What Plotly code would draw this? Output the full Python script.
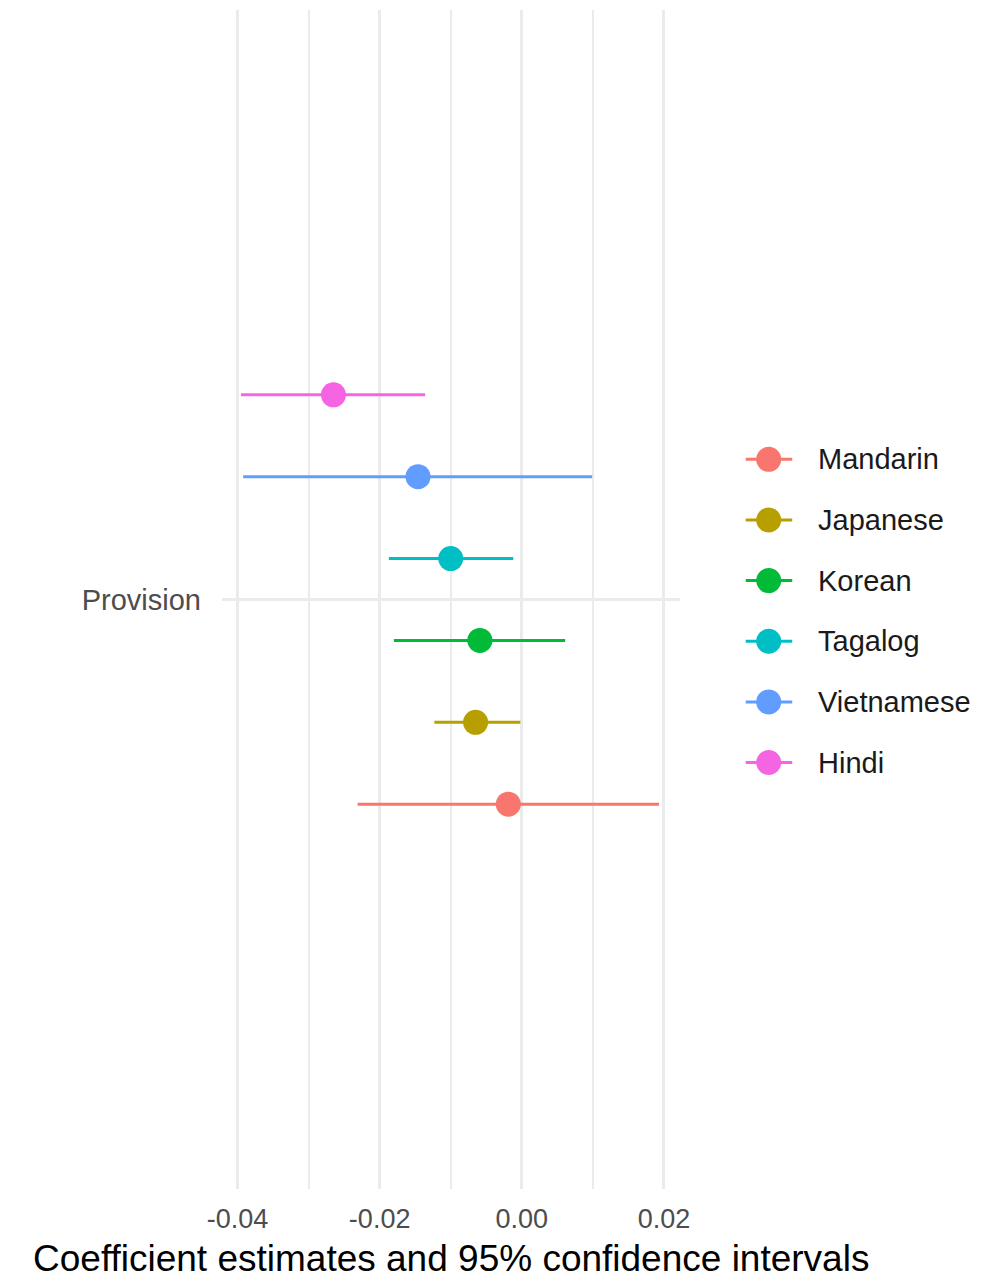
import plotly.graph_objects as go

# Model term and per-language coefficient estimates with 95% CIs
term = "Provision"
languages = ["Mandarin", "Japanese", "Korean", "Tagalog", "Vietnamese", "Hindi"]
estimates = [-0.0019, -0.0065, -0.0059, -0.0100, -0.0146, -0.0265]
ci_low = [-0.0231, -0.0123, -0.0180, -0.0187, -0.0392, -0.0395]
ci_high = [0.0193, -0.0002, 0.0061, -0.0012, 0.0099, -0.0136]
colors = ["#F8766D", "#B79F00", "#00BA38", "#00BFC4", "#619CFF", "#F564E3"]

x_tickvals = [-0.04, -0.02, 0.0, 0.02]
x_ticktext = ["-0.04", "-0.02", "0.00", "0.02"]
x_minor = [-0.03, -0.01, 0.01]
x_title = "Coefficient estimates and 95% confidence intervals"

FONT = "Liberation Sans, Arial, Helvetica, sans-serif"
GRID = "#EBEBEB"

W, H = 985, 1282
M_L, M_R, M_T, M_B = 222, 12, 10, 86

dodge_width = 0.5
n = len(languages)

# panel and key-area domains (fractions of the plotting width)
panel_domain = [0, 0.617]
key_domain = [0.7048, 1]

# legend key geometry (pixels inside the key axis)
key_span = 219
key_x, key_half, label_x = 23, 23.5, 70
row0_px, row_step = 462, 61
plot_top, plot_bottom = M_T, H - M_B

fig = go.Figure()
for i, (lang, est, lo, hi, col) in enumerate(zip(languages, estimates, ci_low, ci_high, colors)):
    ypos = 1 + (i - (n - 1) / 2) * dodge_width / n
    fig.add_trace(go.Scatter(
        x=[est], y=[ypos], mode="markers", name=lang, showlegend=False,
        marker=dict(size=25, color=col),
        error_x=dict(type="data", symmetric=False, array=[hi - est],
                     arrayminus=[est - lo], width=0, thickness=3, color=col),
        xaxis="x", yaxis="y",
    ))
    # legend key: point with a short horizontal bar
    fig.add_trace(go.Scatter(
        x=[key_x], y=[i], mode="markers", name=lang, showlegend=False,
        hoverinfo="skip",
        marker=dict(size=25, color=col),
        error_x=dict(type="constant", value=key_half, width=0, thickness=3, color=col),
        xaxis="x2", yaxis="y2",
    ))
    fig.add_annotation(
        x=label_x, y=i, xref="x2", yref="y2", text=lang, showarrow=False,
        xanchor="left", yanchor="middle",
        font=dict(family=FONT, size=29, color="#1A1A1A"),
    )

y2_lo = -(row0_px - plot_top) / row_step
y2_hi = (plot_bottom - row0_px) / row_step

fig.update_layout(
    width=W, height=H,
    margin=dict(l=M_L, r=M_R, t=M_T, b=M_B),
    paper_bgcolor="white", plot_bgcolor="white",
    showlegend=False,
    font=dict(family=FONT),
    xaxis=dict(
        domain=panel_domain,
        range=[-0.04218, 0.02232],
        tickmode="array", tickvals=x_tickvals, ticktext=x_ticktext,
        showgrid=True, gridcolor=GRID, gridwidth=2.5,
        minor=dict(tickmode="array", tickvals=x_minor, showgrid=True,
                   gridcolor=GRID, gridwidth=1.6),
        zeroline=False, showline=False, ticks="",
        tickfont=dict(family=FONT, size=27, color="#4D4D4D"),
        ticklabelstandoff=11,
        title=dict(text=x_title, font=dict(family=FONT, size=37, color="black"),
                   standoff=12),
        anchor="y",
    ),
    yaxis=dict(
        domain=[0, 1],
        range=[0.4, 1.6],
        tickmode="array", tickvals=[1], ticktext=[term],
        showgrid=True, gridcolor=GRID, gridwidth=2.5,
        zeroline=False, showline=False, ticks="",
        tickfont=dict(family=FONT, size=29, color="#4D4D4D"),
        ticklabelstandoff=20,
        anchor="x",
    ),
    xaxis2=dict(
        domain=key_domain,
        range=[0, key_span],
        visible=False, anchor="y2",
    ),
    yaxis2=dict(
        domain=[0, 1],
        range=[y2_hi, y2_lo],
        visible=False, anchor="x2",
    ),
)

fig.write_html("out.html")
